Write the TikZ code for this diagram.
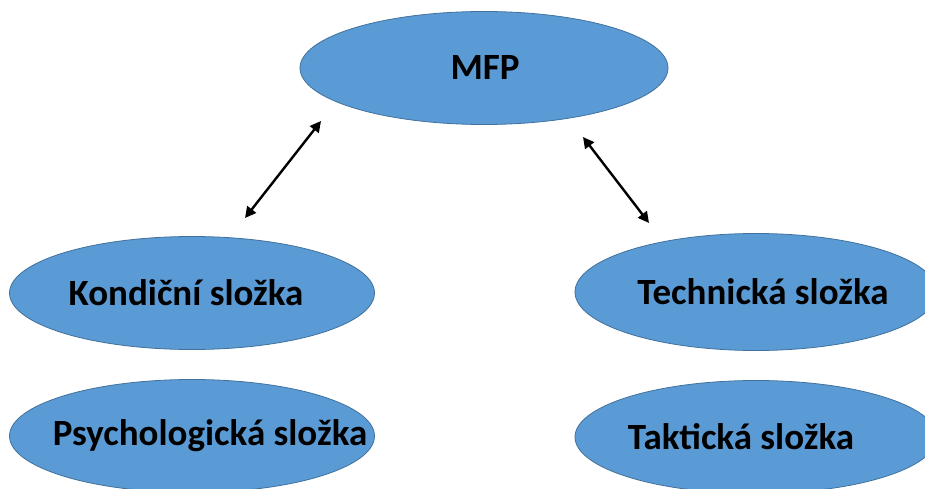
\documentclass[tikz,border=0pt]{standalone}
\usepackage{fontspec}
\setmainfont{Carlito}
\usetikzlibrary{shapes.geometric, arrows.meta}
\definecolor{ovalfill}{HTML}{5B9BD5}
\definecolor{ovalline}{HTML}{41719C}
% text set off the centre of its oval by half of #1
\newcommand{\offtext}[2]{\makebox[0pt]{\hspace*{#1}#2}}

\begin{document}
\begin{tikzpicture}[x=1pt, y=-1pt,
  oval/.style={ellipse, draw=ovalline, fill=ovalfill, line width=0.8pt,
    inner sep=0pt, font=\fontsize{37}{42}\selectfont\bfseries},
  link/.style={line width=2.4pt, {Triangle[length=11pt,width=11pt]}-{Triangle[length=11pt,width=11pt]}}]
  \useasboundingbox (0,0) rectangle (925,489);
  \fill[white] (0,0) rectangle (925,489);
  \node[oval, minimum width=368pt, minimum height=113pt] (mfp) at (484,68) {\offtext{2pt}{MFP}};
  \node[oval, minimum width=365pt, minimum height=113pt] (kond) at (192,293) {\offtext{-12pt}{Kondiční složka}};
  \node[oval, minimum width=365pt, minimum height=113pt] (psych) at (192,436) {\offtext{36pt}{Psychologická složka}};
  \node[oval, minimum width=362pt, minimum height=117pt] (tech) at (756,292) {\offtext{14pt}{Technická složka}};
  \node[oval, minimum width=362pt, minimum height=113pt] (takt) at (756,437) {\offtext{-30pt}{Taktická složka}};
  % free ends of the two arrows
  \coordinate (kondtop) at (245,218);
  \coordinate (mfpleft) at (321,121);
  \coordinate (mfpright) at (583,137);
  \coordinate (techtop) at (649,223);
  \draw[link] (kondtop) -- (mfpleft);
  \draw[link] (mfpright) -- (techtop);
\end{tikzpicture}
\end{document}
